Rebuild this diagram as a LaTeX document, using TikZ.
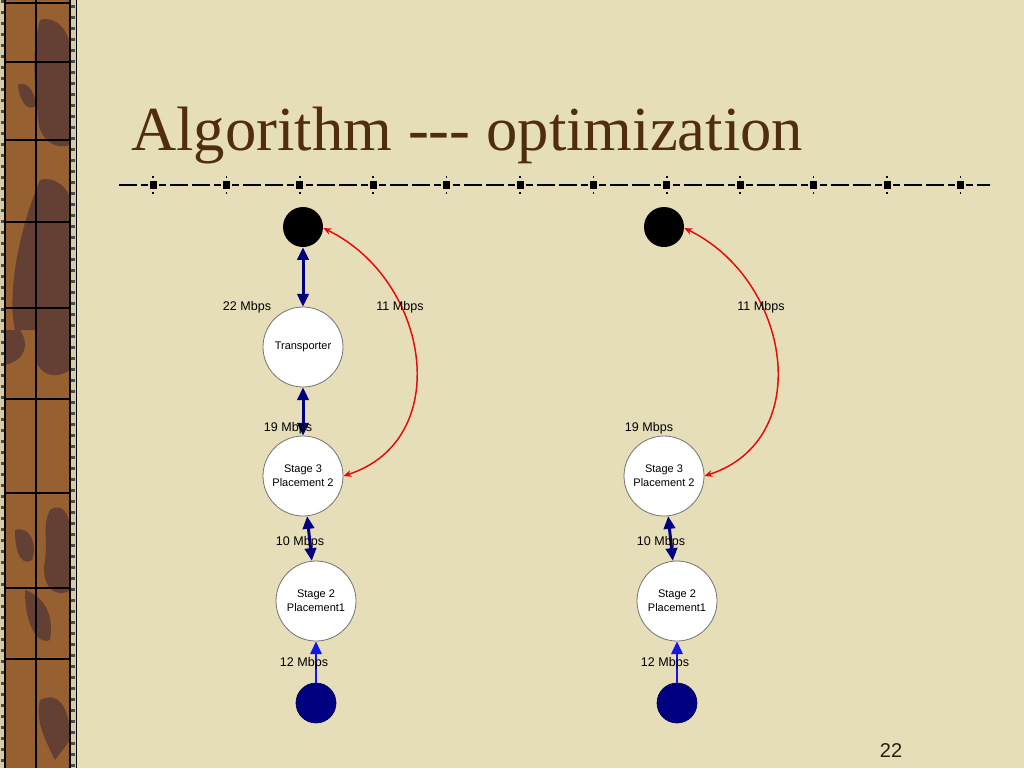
\documentclass[tikz,border=0pt]{standalone}
\usepackage{fontspec}
\setmainfont{Liberation Serif}
\newfontfamily\arialf{Liberation Sans}
\usetikzlibrary{arrows.meta,calc}
\definecolor{bg}{RGB}{230,222,184}
\definecolor{titlec}{RGB}{80,45,15}
\definecolor{navyc}{RGB}{0,0,128}
\definecolor{bluec}{RGB}{20,20,235}
\definecolor{redc}{RGB}{230,10,10}
\definecolor{bandc}{RGB}{150,96,48}
\definecolor{banddark}{RGB}{100,64,52}
\definecolor{stripc}{RGB}{215,205,165}
\definecolor{pagec}{RGB}{40,30,15}
\tikzset{
 bignode/.style={circle, draw=black!55, line width=0.6pt, fill=white, minimum size=60pt, inner sep=0pt, font=\arialf\fontsize{8.25}{10.5}\selectfont, align=center},
 blacknode/.style={circle, fill=black, minimum size=30pt, inner sep=0pt},
 navynode/.style={circle, fill=navyc, draw=navyc!70!black, line width=0.5pt, minimum size=30pt, inner sep=0pt},
 navyarr/.style={draw=navyc, line width=2.25pt, {Triangle[length=9.5pt,width=8.5pt]}-{Triangle[length=9.5pt,width=8.5pt]}},
 bluearr/.style={draw=bluec, line width=1.7pt, -{Triangle[length=9.5pt,width=8.5pt]}},
 redarr/.style={draw=redc, line width=1.1pt, {Stealth[length=6pt,width=5pt]}-{Stealth[length=6pt,width=5pt]}},
 lab/.style={font=\arialf\fontsize{9.4}{11}\selectfont, inner sep=0pt},
 blob/.style={fill=banddark}
}
\begin{document}
\begin{tikzpicture}[x=0.75pt,y=-0.75pt]
\useasboundingbox (0,0) rectangle (1024,768);
\fill[bg] (0,0) rectangle (1024,768);

% left decorative border
\fill[bandc] (5,0) rectangle (70,768);
\begin{scope}
\clip (5,0) rectangle (70,768);
\fill[blob] (40,20) .. controls (55,15) and (70,30) .. (70,50) -- (70,145) .. controls (55,150) and (40,140) .. (38,120) .. controls (36,90) and (30,60) .. (40,20);
\fill[blob] (18,85) .. controls (25,80) and (35,90) .. (36,105) .. controls (30,112) and (20,105) .. (18,85);
\fill[blob] (40,180) .. controls (55,175) and (70,190) .. (70,200) -- (70,330) -- (15,330) .. controls (8,300) and (15,240) .. (40,180);
\fill[blob] (36,330) -- (70,330) -- (70,370) .. controls (55,380) and (40,375) .. (36,360) -- cycle;
\fill[blob] (20,330) .. controls (30,345) and (25,360) .. (5,365) -- (5,330) -- cycle;
\fill[blob] (50,510) .. controls (65,500) and (72,520) .. (70,540) -- (70,590) .. controls (55,600) and (40,585) .. (45,560) .. controls (48,540) and (42,525) .. (50,510);
\fill[blob] (15,530) .. controls (30,525) and (38,545) .. (32,560) .. controls (25,565) and (15,560) .. (15,530);
\fill[blob] (25,590) .. controls (40,595) and (55,610) .. (50,640) .. controls (40,645) and (25,630) .. (25,590);
\fill[blob] (40,700) .. controls (60,690) and (70,710) .. (70,740) -- (55,760) .. controls (45,740) and (35,720) .. (40,700);
\end{scope}
\fill[stripc] (0,0) rectangle (5,768);
\fill[stripc] (70,0) rectangle (76,768);
\foreach \yy in {0,11,...,768} {
  \fill[black!70] (0.5,\yy) rectangle (4.5,\yy+3);
  \fill[black!70] (71,\yy+5) rectangle (75,\yy+8);
}
\draw[line width=0.8pt] (5,0) -- (5,768) (70,0) -- (70,768) (36,0) -- (36,768);
\draw[line width=1.2pt] (76.5,0) -- (76.5,768);
\foreach \yy in {3,62,140,222,308,399,493,588,659} {
  \draw[line width=0.8pt] (5,\yy) -- (70,\yy);
}

% title
\node[anchor=base west, text=titlec, font=\fontsize{47}{50}\selectfont, inner sep=0pt] (title) at (131,150) {Algorithm -\kern0pt-\kern0pt- optimization};

% ornamental dashed rule
\begin{scope}
\clip (119,170) rectangle (990,200);
\foreach \k in {-1,...,11} {
  \pgfmathsetmacro\c{153+73.4*\k}
  \fill (\c-3.5,181) rectangle (\c+3.5,189);
  \fill (\c-0.8,176) rectangle (\c+0.8,178);
  \fill (\c-0.8,192) rectangle (\c+0.8,194);
  \draw[line width=1.5pt] (\c+6,185) -- (\c+13,185) (\c+17,185) -- (\c+35,185) (\c+39,185) -- (\c+57,185) (\c+61,185) -- (\c+68,185);
}
\end{scope}

% left diagram
\node[blacknode] (top1) at (303,227) {};
\node[bignode] (tr1) at (303,347) {Transporter};
\node[bignode] (s31) at (303,476) {Stage 3\\Placement 2};
\node[bignode] (s21) at (316,601) {Stage 2\\Placement1};
\node[navynode] (bot1) at (316,703) {};
\draw[navyarr] (top1) -- (tr1);
\draw[navyarr] (tr1) -- (s31);
\draw[navyarr] (s31) -- (s21);
\draw[bluearr] (bot1) -- (s21);
\draw[redarr] (top1.-3) .. controls ($(top1)+(127,53)$) and ($(top1)+(152,213)$) .. (s31.east);
\node[lab] (l22) at (247,307) {22 Mbps};
\node[lab] (l11a) at (400,307) {11 Mbps};
\node[lab] (l19a) at (288,428) {19 Mbps};
\node[lab] (l10a) at (300,542) {10 Mbps};
\node[lab] (l12a) at (304,663) {12 Mbps};

% right diagram
\node[blacknode] (top2) at (664,227) {};
\node[bignode] (s32) at (664,476) {Stage 3\\Placement 2};
\node[bignode] (s22) at (677,601) {Stage 2\\Placement1};
\node[navynode] (bot2) at (677,703) {};
\draw[navyarr] (s32) -- (s22);
\draw[bluearr] (bot2) -- (s22);
\draw[redarr] (top2.-3) .. controls ($(top2)+(127,53)$) and ($(top2)+(152,213)$) .. (s32.east);
\node[lab] (l11b) at (761,307) {11 Mbps};
\node[lab] (l19b) at (649,428) {19 Mbps};
\node[lab] (l10b) at (661,542) {10 Mbps};
\node[lab] (l12b) at (665,663) {12 Mbps};

% page number
\node[font=\arialf\fontsize{15}{18}\selectfont, text=pagec, inner sep=0pt] (pg) at (891,751) {22};
\end{tikzpicture}
\end{document}
